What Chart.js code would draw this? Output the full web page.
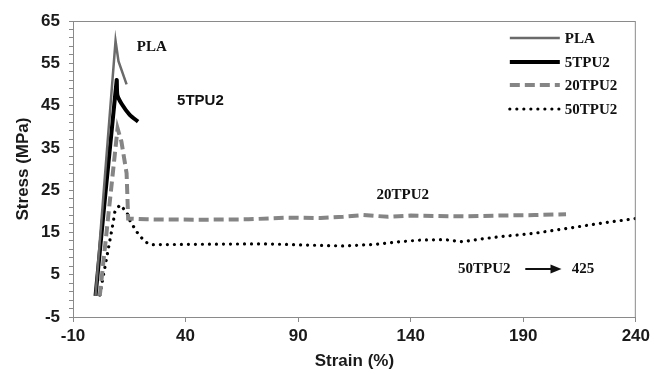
<!DOCTYPE html>
<html><head><meta charset="utf-8">
<script src="https://cdn.jsdelivr.net/npm/chart.js@4.4.0/dist/chart.umd.min.js"></script>
<style>html,body{margin:0;padding:0;background:#fff;} #wrap{width:654px;height:374px;position:relative;}</style>
</head><body><div id="wrap"><canvas id="c" width="654" height="374"></canvas></div>
<script>
const seriesNames = ['PLA', '5TPU2', '20TPU2', '50TPU2'];
const plaStrain = [0, 8.9, 10.2, 13.8];
const plaStress = [0, 60.3, 55.5, 50.0];
const tpu5Strain = [0, 9.4, 9.7, 11.5, 15.2, 18.9];
const tpu5Stress = [0, 51.0, 47.5, 45.5, 42.8, 41.2];
const tpu20Strain = [1.9, 9.8, 11.5, 13.8, 14.5, 22.6, 46, 68, 85, 100, 110, 119, 130, 140, 150, 165, 180, 195, 209];
const tpu20Stress = [0, 39.6, 36.5, 29.0, 18.3, 18.1, 18.0, 18.1, 18.5, 18.4, 18.7, 19.1, 18.7, 19.0, 18.9, 18.8, 19.0, 19.1, 19.3];
const tpu50Strain = [1.9, 7.8, 8.6, 10.8, 13.8, 15.2, 18.2, 21.9, 24.8, 45, 75, 95, 110, 125, 135, 145, 155, 163, 172, 180, 195, 210, 225, 240];
const tpu50Stress = [0.2, 17.2, 19.9, 21.5, 19.9, 17.9, 15.2, 12.8, 12.1, 12.2, 12.3, 12.0, 11.8, 12.2, 12.8, 13.2, 13.3, 12.8, 13.5, 14.0, 14.8, 16.0, 17.2, 18.3];
const xTicks = [-10, 40, 90, 140, 190, 240];
const yTicks = [-5, 5, 15, 25, 35, 45, 55, 65];
const yMinorStep = 2;
const xTitle = 'Strain (%)';
const yTitle = 'Stress (MPa)';
// text annotations placed in data coordinates
const notes = [
  {text: 'PLA', x: 25.0, y: 58.8, font: 'bold 15px "Liberation Serif"'},
  {text: '5TPU2', x: 46.6, y: 46.1, font: 'bold 15px "Liberation Sans"'},
  {text: '20TPU2', x: 136.5, y: 23.8, font: 'bold 15px "Liberation Serif"'},
  {text: '50TPU2', x: 172.7, y: 6.35, font: 'bold 15px "Liberation Serif"'},
  {text: '425', x: 216.5, y: 6.35, font: 'bold 15px "Liberation Serif"'}
];
const arrowFrom = [190.9, 6.35];
const arrowTo = [207.0, 6.35];

function pts(xs, ys) { return xs.map((x, i) => ({x: x, y: ys[i]})); }

const frame = {
  id: 'frame',
  afterDraw(chart) {
    const {ctx, chartArea: a, scales} = chart;
    ctx.save();
    ctx.strokeStyle = '#8a8a8a';
    ctx.lineWidth = 1;
    ctx.strokeRect(a.left + 0.5, a.top + 0.5, a.right - a.left - 1, a.bottom - a.top);
    ctx.fillStyle = '#111';
    ctx.textAlign = 'center';
    ctx.textBaseline = 'middle';
    notes.forEach(n => {
      ctx.font = n.font;
      ctx.fillText(n.text, scales.x.getPixelForValue(n.x), scales.y.getPixelForValue(n.y));
    });
    const ax1 = scales.x.getPixelForValue(arrowFrom[0]), ax2 = scales.x.getPixelForValue(arrowTo[0]);
    const ay = scales.y.getPixelForValue(arrowFrom[1]);
    ctx.strokeStyle = '#111';
    ctx.lineWidth = 2;
    ctx.beginPath(); ctx.moveTo(ax1, ay); ctx.lineTo(ax2 - 8, ay); ctx.stroke();
    ctx.beginPath(); ctx.moveTo(ax2, ay); ctx.lineTo(ax2 - 11, ay - 4.5); ctx.lineTo(ax2 - 11, ay + 4.5); ctx.closePath(); ctx.fill();
    const lx1 = a.right - 126, lx2 = a.right - 76, tx = a.right - 71;
    const rows = [17, 41, 64, 88];
    chart.data.datasets.forEach((ds, i) => {
      const yy = a.top + rows[i];
      ctx.save();
      ctx.strokeStyle = ds.borderColor;
      ctx.lineWidth = ds.borderWidth;
      ctx.lineCap = ds.borderCapStyle || 'butt';
      ctx.setLineDash(ds.borderDash || []);
      ctx.beginPath(); ctx.moveTo(lx1, yy); ctx.lineTo(lx2, yy); ctx.stroke();
      ctx.restore();
      ctx.font = 'bold 15px "Liberation Serif"';
      ctx.textAlign = 'left';
      ctx.fillStyle = '#111';
      ctx.fillText(ds.label, tx, yy + 1);
    });
    ctx.restore();
  }
};

new Chart(document.getElementById('c'), {
  type: 'scatter',
  data: {
    datasets: [
      {label: seriesNames[0], data: pts(plaStrain, plaStress), showLine: true, borderColor: '#6a6a6a', borderWidth: 2.5, pointRadius: 0, tension: 0},
      {label: seriesNames[1], data: pts(tpu5Strain, tpu5Stress), showLine: true, borderColor: '#000', borderWidth: 4, pointRadius: 0, tension: 0.2, borderJoinStyle: 'round'},
      {label: seriesNames[2], data: pts(tpu20Strain, tpu20Stress), showLine: true, borderColor: '#858585', borderWidth: 4, borderDash: [10, 5], pointRadius: 0, tension: 0},
      {label: seriesNames[3], data: pts(tpu50Strain, tpu50Stress), showLine: true, borderColor: '#000', borderWidth: 3.2, borderDash: [0.01, 7], borderCapStyle: 'round', pointRadius: 0, tension: 0}
    ]
  },
  options: {
    responsive: false,
    animation: false,
    layout: {padding: {left: 0, top: 21, right: 16, bottom: 0}},
    plugins: {legend: {display: false}, tooltip: {enabled: false}},
    scales: {
      x: {
        type: 'linear', min: -10, max: 240,
        afterBuildTicks: s => { s.ticks = xTicks.map(v => ({value: v})); },
        afterFit: s => { s.height = 57; },
        border: {display: false},
        grid: {drawOnChartArea: false, drawTicks: true, tickLength: 5, color: '#8a8a8a'},
        ticks: {font: {family: 'Liberation Sans', size: 17, weight: 'bold'}, color: '#1a1a1a', padding: 4, maxRotation: 0, autoSkip: false},
        title: {display: true, text: xTitle, font: {family: 'Liberation Sans', size: 17, weight: 'bold'}, color: '#1a1a1a', padding: {top: 0, bottom: 2}}
      },
      y: {
        type: 'linear', min: -5, max: 65,
        afterBuildTicks: s => { const t = []; for (let v = yTicks[0]; v <= yTicks[yTicks.length - 1] + 0.001; v += yMinorStep) t.push({value: v}); s.ticks = t; },
        afterFit: s => { s.width = 73; },
        border: {display: false},
        grid: {drawOnChartArea: false, drawTicks: true, tickLength: 4, color: '#8a8a8a'},
        ticks: {font: {family: 'Liberation Sans', size: 17, weight: 'bold'}, color: '#1a1a1a', padding: 9, autoSkip: false,
          callback: v => yTicks.includes(v) ? String(v) : ''},
        title: {display: true, text: yTitle, font: {family: 'Liberation Sans', size: 17, weight: 'bold'}, color: '#1a1a1a', padding: {top: 13, bottom: 0}}
      }
    }
  },
  plugins: [frame]
});
</script>
</body></html>
